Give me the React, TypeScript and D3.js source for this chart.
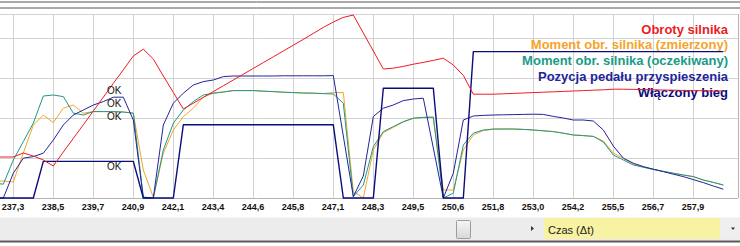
import React from "react";
import * as d3 from "d3";

// sample times (regular sampling of the logger)
const T_START = 236.704;
const T_STEP = 0.30294;

const tickLabels = ["237,3","238,5","239,7","240,9","242,1","243,4","244,6","245,8","247,1","248,3","249,5","250,6","251,8","253,0","254,2","255,5","256,7","257,9"];
const tickFirst = 237.3;
const tickLast = 257.9;

// Obroty silnika (%)
const obroty = [20.5,20.5,20.5,22.5,21,19,16,23,29.8,36.6,43.5,50.4,57.3,64.1,71,74.4,69.5,61,52.8,44.5,47.4,50.3,53.2,56.1,59,61.9,64.8,67.7,70.6,73.5,76.4,79.3,82.3,85.3,88,90.3,91.5,82.5,73.5,64.5,64.9,65.8,66.9,67.8,68.8,69.9,66.5,61.3,51.9,51.9,51.9,52.1,52.3,52.5,52.7,52.9,53.1,53.3,53.5,53.7,53.9,54.1,54.4,54.4,54.3,54.2,54.1,54,53.9,53.8,53.7,53.6,53.5,53.5];
// Moment obr. silnika (zmierzony)
const zmierzony = [8.5,8.5,8,22.5,36.5,41.5,37.7,44.9,46.5,42.4,43.2,43.2,43.2,43,42.4,14,0.3,22.4,34,40.7,44.9,50.5,52.4,53,53.7,53.7,53.7,53.4,53.2,52.9,52.7,52.5,52.4,52.2,52.7,52.7,3.2,0,24,32.7,35.3,38,39.8,40.3,40.4,4,4,24,31.5,33.7,34.4,34.5,34.5,34.3,34,33.6,33.2,32.4,31.5,31.2,30.8,28.5,22.5,19.8,17,15.4,14.3,13.3,12.4,11.5,10.7,9,7.8,6.5];
// Moment obr. silnika (oczekiwany)
const oczekiwany = [7.5,6.9,19,28.2,37.4,51,51.5,50.7,42.4,41.5,43.2,43.2,43.2,43,42.4,0.5,0,24,37.4,44,48.2,51.5,52.4,53,53.7,53.7,53.7,53.4,53.2,52.9,52.7,52.5,52.4,52.2,52,47.4,0.7,6.5,25.7,33.2,35.7,38.2,39.9,40.3,40.4,0,2.4,26.5,32.4,34,34.5,34.5,34.5,34.3,34,33.6,33.2,32.4,31.5,31.2,30.8,28,21.5,19,16.5,15.4,14.3,13.3,12.4,11.5,10.7,9,7.8,6.5];
// Pozycja pedału przyspieszenia
const pedal = [0,0,12.4,19.9,20.7,22.4,29,36.5,41.5,44,46.5,48.2,50.4,50.4,39,0,0,36.5,47.4,52.4,56.5,58.2,59,60.7,61,61,61,61,61,61.1,61.1,61.1,61.1,61.1,61.2,31,0.7,11,40.7,44.9,46.5,48.7,49.5,49.9,25,0,12.4,39,41,41.3,41.5,41.6,41.7,41.8,41.9,41.8,40.8,40,39,39,38.5,34,26,19.9,17.4,15.7,14.4,13.2,11.9,10.7,9.2,7.7,6,4.4];
// Włączony bieg
const bieg = [0,0,0,0,0,1,1,1,1,1,1,1,1,1,1,0,0,0,0,2,2,2,2,2,2,2,2,2,2,2,2,2,2,2,2,0,0,0,0,3,3,3,3,3,3,0,0,0,4,4,4,4,4,4,4,4,4,4,4,4,4,4,4,4,4,4,4,4,4,4,4,4,4,4];

const legendNames = ["Obroty silnika","Moment obr. silnika (zmierzony)","Moment obr. silnika (oczekiwany)","Pozycja pedału przyspieszenia","Włączony bieg"];
const colors = ["#ec1c24","#f5a52a","#1b9a88","#23239a","#0c0c7a"];

const okLabels = ["OK","OK","OK","OK"];
const okYs = [93.5,106.5,120,170];

export default function App() {
  const W = 740, H = 246;
  const plot = { left: 0, right: 738, top: 14, bottom: 198 };
  const times = obroty.map((_, i) => T_START + i * T_STEP);
  const x = d3.scaleLinear().domain([tickFirst, tickLast]).range([13, 693]);
  const y = d3.scaleLinear().domain([0, 100]).range([198, -2]);
  const yGear = d3.scaleLinear().domain([0, 5]).range([198, 15]);
  const tickStep = (tickLast - tickFirst) / (tickLabels.length - 1);
  const tickVals = tickLabels.map((_, i) => tickFirst + i * tickStep);
  const hGrid = [20, 40, 60, 80];

  const line = (vals: number[], sy: d3.ScaleLinear<number, number>) =>
    d3.line<number>().x((_, i) => x(times[i])).y((v) => sy(v))(vals) || "";

  const series = [
    { vals: zmierzony, c: colors[1], sy: y, w: 1 },
    { vals: oczekiwany, c: colors[2], sy: y, w: 1 },
    { vals: pedal, c: colors[3], sy: y, w: 1 },
    { vals: bieg, c: colors[4], sy: yGear, w: 1.4 },
    { vals: obroty, c: colors[0], sy: y, w: 1 },
  ];

  return (
    <svg width={W} height={H} style={{ position: "absolute", left: 0, top: 0, background: "#fff" }}
      fontFamily="'Liberation Sans', Arial, sans-serif">
      <defs>
        <clipPath id="plotclip">
          <rect x={plot.left} y={plot.top} width={plot.right - plot.left} height={plot.bottom - plot.top + 1} />
        </clipPath>
        <linearGradient id="thumb" x1="0" x2="0" y1="0" y2="1">
          <stop offset="0" stopColor="#f6f6f6" />
          <stop offset="1" stopColor="#d8d8d8" />
        </linearGradient>
      </defs>
      <line x1={0} x2={W} y1={2} y2={2} stroke="#555" strokeWidth={1} />
      <line x1={0} x2={W} y1={8} y2={8} stroke="#555" strokeWidth={1} />
      {/* grid */}
      <line x1={0} x2={plot.right} y1={plot.top + 0.5} y2={plot.top + 0.5} stroke="#d2d2d2" />
      {hGrid.map((v) => (
        <line key={v} x1={0} x2={plot.right} y1={Math.round(y(v)) + 0.5} y2={Math.round(y(v)) + 0.5} stroke="#d2d2d2" />
      ))}
      {tickVals.map((t, i) => (
        <line key={i} x1={Math.round(x(t)) + 0.5} x2={Math.round(x(t)) + 0.5} y1={plot.top} y2={plot.bottom} stroke="#d2d2d2" />
      ))}
      <line x1={plot.right + 0.5} x2={plot.right + 0.5} y1={plot.top} y2={plot.bottom} stroke="#b4b4b4" />
      <line x1={0} x2={plot.right} y1={plot.bottom + 0.5} y2={plot.bottom + 0.5} stroke="#b4b4b4" />
      {/* legend */}
      {legendNames.map((n, i) => (
        <text key={n} x={728} y={33.5 + i * 16 - (i === 0 ? 0 : 0.5) } textAnchor="end" fontSize={13} fontWeight="bold" fill={colors[i]}>{n}</text>
      ))}
      {/* series */}
      <g clipPath="url(#plotclip)">
        {series.map((s, i) => (
          <path key={i} d={line(s.vals, s.sy)} fill="none" stroke={s.c} strokeWidth={s.w} strokeLinejoin="round" />
        ))}
      </g>
      {okLabels.map((l, i) => (
        <text key={i} x={107} y={okYs[i]} fontSize={10} fill="#111">{l}</text>
      ))}
      {/* x tick labels */}
      {tickVals.map((t, i) => (
        <text key={i} x={x(t)} y={210} textAnchor="middle" fontSize={9} fontWeight="bold" fill="#111">{tickLabels[i]}</text>
      ))}
      {/* bottom bar */}
      <rect x={0} y={217.5} width={W} height={23} fill="#ececec" />
      <rect x={0} y={240.5} width={W} height={2} fill="#5a5a5a" />
      <rect x={456.5} y={220.5} width={14} height={18} rx={1} fill="url(#thumb)" stroke="#9c9c9c" />
      <path d="M531,226 L534,228.5 L531,231 Z" fill="#333" />
      <rect x={544} y={218} width={176} height={21} fill="#f7f3a3" />
      <text x={548} y={234} fontSize={11} fill="#222">Czas (Δt)</text>
      <rect x={720} y={218} width={20} height={21} fill="#efefef" />
      <path d="M731,227.5 L735,227.5 L733,230 Z" fill="#333" />
    </svg>
  );
}
